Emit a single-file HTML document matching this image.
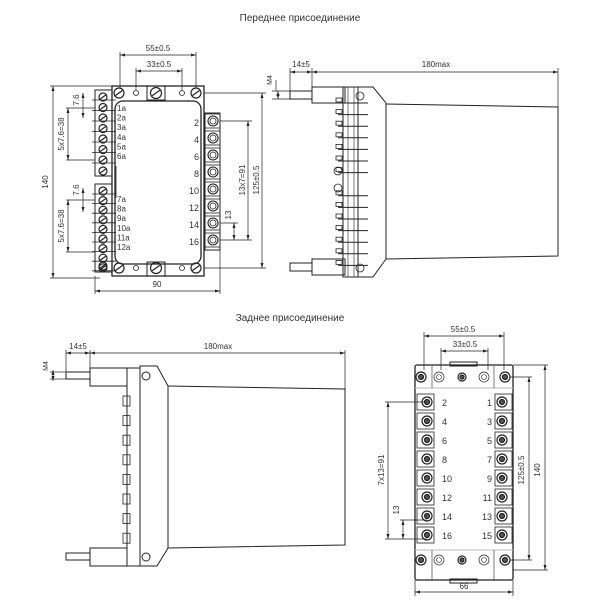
<!DOCTYPE html>
<html><head><meta charset="utf-8"><style>
html,body{margin:0;padding:0;background:#fff;width:600px;height:600px;overflow:hidden}
svg{display:block}
text{font-family:"Liberation Sans",sans-serif;fill:#333}
</style></head><body>
<svg id="s" width="600" height="600" viewBox="0 0 600 600" xmlns="http://www.w3.org/2000/svg" stroke="#222" fill="none" stroke-width="1">
<text x="300" y="21" font-size="10" text-anchor="middle" stroke="none">Переднее присоединение</text>
<text x="290" y="321" font-size="10" text-anchor="middle" stroke="none">Заднее присоединение</text>
<rect x="112" y="86" width="92" height="190" stroke-width="1.3"/>
<rect x="115" y="101" width="86" height="163" rx="8" stroke-width="1.3"/>
<rect x="147" y="86" width="18" height="14"/><rect x="147" y="262" width="18" height="14"/>
<rect x="95" y="90" width="17" height="86"/><rect x="95" y="184" width="17" height="88"/>
<rect x="205" y="113" width="15" height="137"/>
<rect x="290" y="91" width="22" height="8"/><rect x="312" y="87" width="33" height="16"/>
<rect x="290" y="263" width="22" height="8"/><rect x="312" y="259" width="33" height="16"/>
<rect x="343" y="87" width="15" height="190"/>
<polygon points="358,87 373,87 386,103 386,259 373,277 358,277"/>
<polyline points="386,104 558,107 558,256 386,259"/>
<rect x="66" y="372" width="24" height="7"/><rect x="90" y="368" width="37" height="18"/>
<rect x="66" y="553" width="24" height="7"/><rect x="90" y="548" width="37" height="18"/>
<rect x="127" y="368" width="13" height="198"/>
<polygon points="140,366 157,366 168,386 168,548 157,566 140,566"/>
<polyline points="168,386 345,389 345,545 168,548"/>
<circle cx="146" cy="376" r="4"/><circle cx="146" cy="557" r="4"/>
<rect x="415" y="365" width="98" height="215" rx="2" stroke-width="1.3"/>
<rect x="450" y="362" width="27" height="4"/><rect x="450" y="579" width="27" height="4"/>
<line x1="415" y1="388" x2="513" y2="388" stroke="#bbb"/>
<line x1="415" y1="550" x2="513" y2="550" stroke="#bbb"/>
<g id="g" stroke-width="0.8"></g>
<g id="t" stroke="none" font-size="9"></g>
</svg>
<script>
var g=document.getElementById('g'),T=document.getElementById('t'),NS='http://www.w3.org/2000/svg';
function e(n,a,p){var x=document.createElementNS(NS,n);for(var k in a)x.setAttribute(k,a[k]);(p||g).appendChild(x);return x}
function L(a,b,c,d,w){e('line',{x1:a,y1:b,x2:c,y2:d,'stroke-width':w||0.7})}
function tx(x,y,s,o){o=o||{};var a={x:x,y:y,'font-size':o.fs||8,'text-anchor':o.a||'middle'};if(o.r)a.transform='rotate(-90 '+x+' '+y+')';e('text',a,T).textContent=s}
function arrH(x1,x2,y){L(x1,y,x2,y);e('polygon',{points:x1+','+y+' '+(x1+5)+','+(y-1.5)+' '+(x1+5)+','+(y+1.5),fill:'#222',stroke:'none'});e('polygon',{points:x2+','+y+' '+(x2-5)+','+(y-1.5)+' '+(x2-5)+','+(y+1.5),fill:'#222',stroke:'none'})}
function arrV(x,y1,y2){L(x,y1,x,y2);e('polygon',{points:x+','+y1+' '+(x-1.5)+','+(y1+5)+' '+(x+1.5)+','+(y1+5),fill:'#222',stroke:'none'});e('polygon',{points:x+','+y2+' '+(x-1.5)+','+(y2-5)+' '+(x+1.5)+','+(y2-5),fill:'#222',stroke:'none'})}
function screw(x,y,r){e('circle',{cx:x,cy:y,r:r,'stroke-width':1.2});L(x-r*0.7,y+r*0.5,x+r*0.7,y-r*0.5,1.2)}
function nut(x,y,r,light){e('circle',{cx:x,cy:y,r:r,'stroke-width':light?0.7:1.2});e('circle',{cx:x,cy:y,r:r*0.5,'stroke-width':light?0.6:1.2,fill:light?'none':'#555'})}
[[119,93],[196,93],[119,268],[196,268]].forEach(p=>screw(p[0],p[1],5));
screw(156,93,5.5);screw(156,268,5.5);
[[136,93],[182,93],[136,268],[182,268]].forEach(p=>e('circle',{cx:p[0],cy:p[1],r:2.5}));
for(var i=0;i<7;i++){var y=97+i*10.5;screw(103,y,4);L(92,y+3,116,y+3,0.8)}
for(var i=0;i<9;i++){var y=191+i*9.6;screw(103,y,4);L(92,y+3,116,y+3,0.8)}
screw(103,171,4);screw(103,266,4);
['1a','2a','3a','4a','5a','6a'].forEach((s,i)=>tx(117,111+i*9.6,s,{a:'start',fs:8}));
['7a','8a','9a','10a','11a','12a'].forEach((s,i)=>tx(117,202+i*9.6,s,{a:'start',fs:8}));
L(116,166,116,198,0.8);
for(var i=0;i<8;i++){var y=121+i*17;e('rect',{x:205,y:y-7,width:15,height:14});e('circle',{cx:213,cy:y,r:5,'stroke-width':1.1});e('circle',{cx:213,cy:y,r:3})}
['2','4','6','8','10','12','14','16'].forEach((s,i)=>tx(199,126+i*17,s,{a:'end',fs:9}));
L(120,88,120,52);L(196,88,196,52);arrH(120,196,55);tx(158,51,'55±0.5');
L(136,90,136,68);L(182,90,182,68);arrH(136,182,71);tx(159,67,'33±0.5');
L(50,86,112,86);L(50,278,100,278);arrV(53,86,278);tx(48,182,'140',{r:1});
L(95,276,95,294);L(220,250,220,294);arrH(95,220,291);tx(157,287,'90');
L(204,93,266,93);L(204,268,266,268);arrV(262,93,268);tx(259,180,'125±0.5',{r:1});
L(220,121,252,121);L(220,240,252,240);arrV(248,121,240);tx(245,180,'13x7=91',{r:1});
L(220,223,238,223);arrV(234,223,240);tx(231,215,'13',{r:1});
L(66,108,95,108);L(66,160,95,160);arrV(68,108,160);tx(64,134,'5x7.6=38',{r:1});
arrV(83,93,118);tx(79,100,'7.6',{r:1});
L(66,200,95,200);L(66,252,95,252);arrV(68,200,252);tx(64,226,'5x7.6=38',{r:1});
arrV(83,188,212);tx(79,190,'7.6',{r:1});
L(276,80,276,91);arrV(278,91,99);tx(272,80,'M4',{r:1,fs:7});L(272,91,290,91);L(272,99,290,99);
for(var i=0;i<15;i++){var y=103+i*11.6;if(i==7)continue;L(338,y,368,y,1);e('rect',{x:336,y:y-5,width:6,height:4})}
e('circle',{cx:338,cy:171,r:4});e('circle',{cx:338,cy:188,r:4});
L(348,87,348,277,0.6);L(354,87,354,277,0.6);
e('circle',{cx:360,cy:96,r:4});e('circle',{cx:360,cy:268,r:4});
L(290,68,290,95);L(312,68,312,87);L(558,68,558,107);arrH(290,312,72);arrH(312,558,72);
tx(301,67,'14±5');tx(436,67,'180max');
for(var i=0;i<8;i++){var y=396+i*19.6;e('rect',{x:123,y:y,width:7,height:10})}
L(66,350,66,372);L(90,350,90,368);L(345,350,345,389);arrH(66,90,353);arrH(90,345,353);
tx(78,349,'14±5');tx(218,349,'180max');
L(50,372,66,372);L(50,379,66,379);arrV(53,370,381);tx(48,366,'M4',{r:1,fs:7});
[421,505].forEach(x=>{nut(x,377,5);nut(x,560,5)});
[439,484].forEach(x=>{nut(x,377,5,1);nut(x,560,5,1)});
nut(462,377,4);nut(462,560,4);
L(432,366,432,388,0.6);L(494,366,494,388,0.6);L(432,550,432,580,0.6);L(494,550,494,580,0.6);
for(var i=0;i<8;i++){var y=402+i*19;e('rect',{x:417,y:y-8,width:17,height:16});nut(427,y,5);
e('rect',{x:495,y:y-8,width:17,height:16});nut(502,y,5);
tx(442,y+4,String(2+i*2),{a:'start',fs:9});tx(492,y+4,String(1+i*2),{a:'end',fs:9})}
L(424,370,424,332);L(504,370,504,332);arrH(424,504,336);tx(463,332,'55±0.5');
L(441,370,441,348);L(488,370,488,348);arrH(441,488,351);tx(465,347,'33±0.5');
L(513,365,548,365);L(513,570,548,570);arrV(545,365,570);tx(540,470,'140',{r:1});
L(510,377,532,377);L(510,560,532,560);arrV(529,377,560);tx(524,470,'125±0.5',{r:1});
L(415,580,415,596);L(513,580,513,596);arrH(415,513,592);tx(464,589,'66');
L(385,402,427,402);L(385,539,427,539);arrV(388,402,539);tx(384,470,'7x13=91',{r:1});
L(400,520,427,520);arrV(403,520,539);tx(399,510,'13',{r:1});
</script>
</body></html>
